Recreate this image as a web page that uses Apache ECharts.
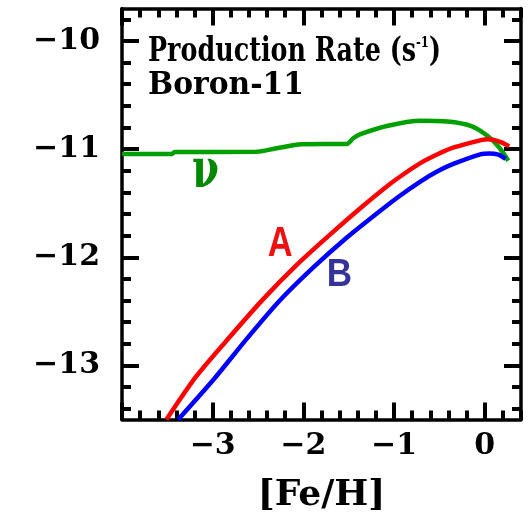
<!DOCTYPE html>
<html>
<head>
<meta charset="utf-8">
<script src="https://cdn.jsdelivr.net/npm/echarts@6/dist/echarts.min.js"></script>
<style>
  html, body { margin: 0; padding: 0; background: #fff; }
  #chart { width: 528px; height: 519px; }
</style>
</head>
<body>
<div id="chart"></div>
<script>
// Curve A: production rate (log10, s^-1) against metallicity [Fe/H]
const feA   = [-3.51, -3.18, -2.81, -2.44, -2.07, -1.70, -1.34, -1.08, -0.90, -0.71, -0.52, -0.34, -0.04, 0.03, 0.10, 0.19, 0.27];
const rateA = [-13.50, -13.10, -12.735, -12.385, -12.068, -11.786, -11.524, -11.345, -11.235, -11.13, -11.048, -10.985, -10.917, -10.908, -10.915, -10.94, -10.975];

// Curve B
const feB   = [-3.38, -2.99, -2.62, -2.26, -1.89, -1.52, -1.19, -0.95, -0.71, -0.52, -0.34, -0.04, 0.05, 0.15, 0.23];
const rateB = [-13.50, -13.13, -12.75, -12.40, -12.094, -11.817, -11.595, -11.44, -11.30, -11.205, -11.135, -11.046, -11.040, -11.052, -11.09];

// Neutrino-process curve
const feNu   = [-4.00, -3.45, -3.42, -2.52, -2.31, -2.02, -1.52, -1.45, -1.37, -1.08, -0.71, -0.41, -0.155, 0.03, 0.16, 0.26];
const rateNu = [-11.046, -11.046, -11.027, -11.025, -10.995, -10.955, -10.952, -10.90, -10.862, -10.786, -10.738, -10.745, -10.785, -10.877, -10.985, -11.108];

// Axis ranges and tick values
const xRange = [-4, 0.4];
const yRange = [-13.5, -9.7];
const xMajorTicks = [-4, -3, -2, -1, 0];
const xTickLabels = [-3, -2, -1, 0];
const yMajorTicks = [-13, -12, -11, -10];
const yTickLabels = [-13, -12, -11, -10];

// Curve labels placed in data coordinates
const curveNotes = [
  { key: 'A',  text: 'A',      fe: -2.256, rate: -11.88 },
  { key: 'B',  text: 'B',      fe: -1.603, rate: -12.162 },
  { key: 'nu', text: '\u03bd', fe: -3.08,  rate: -11.224 }
];

function minorTicks(lo, hi, step) {
  const out = [];
  for (let k = Math.ceil(lo / step); k * step <= hi + 1e-9; k++) {
    const v = Math.round(k * step * 10) / 10;
    if (Math.abs(v - Math.round(v)) > 1e-6) out.push(v);
  }
  return out;
}
const xMinorTicks = minorTicks(xRange[0], xRange[1], 0.2);
const yMinorTicks = minorTicks(yRange[0], yRange[1], 0.2);

const pair = (xs, ys) => xs.map((x, i) => [x, ys[i]]);
const fmt = v => (v < 0 ? '\u2212' : '') + Math.abs(v);

const labelFont = { fontFamily: 'DejaVu Serif', fontWeight: 'bold', fontSize: 30, color: '#000' };
const frame = { show: true, onZero: false, lineStyle: { color: '#000', width: 3.5 } };

function xAxisDef(pos, major, withLine, withLabels) {
  return {
    type: 'value', position: pos, min: xRange[0], max: xRange[1],
    axisLine: withLine ? frame : { show: false, onZero: false },
    axisTick: {
      show: true, inside: true, length: major ? 17 : 9,
      customValues: major ? xMajorTicks : xMinorTicks,
      lineStyle: { color: '#000', width: 4 }
    },
    axisLabel: withLabels
      ? Object.assign({ show: true, margin: 12, customValues: xTickLabels, formatter: fmt }, labelFont)
      : { show: false },
    splitLine: { show: false }
  };
}
function yAxisDef(pos, major, withLine, withLabels) {
  return {
    type: 'value', position: pos, min: yRange[0], max: yRange[1],
    axisLine: withLine ? frame : { show: false, onZero: false },
    axisTick: {
      show: true, inside: true, length: major ? 17 : 9,
      customValues: major ? yMajorTicks : yMinorTicks,
      lineStyle: { color: '#000', width: 4 }
    },
    axisLabel: withLabels
      ? Object.assign({ show: true, margin: 22, customValues: yTickLabels, formatter: fmt }, labelFont)
      : { show: false },
    splitLine: { show: false }
  };
}

const chart = echarts.init(document.getElementById('chart'), null, { renderer: 'canvas' });

const bottomX = xAxisDef('bottom', true, true, true);
bottomX.name = '[Fe/H]';
bottomX.nameLocation = 'middle';
bottomX.nameGap = 58;
bottomX.nameTextStyle = { fontFamily: 'DejaVu Serif', fontWeight: 'bold', fontSize: 36, color: '#000' };

const lineSeries = (data, color) => ({
  type: 'line', data, showSymbol: false, smooth: 0.25,
  xAxisIndex: 0, yAxisIndex: 0, clip: true,
  lineStyle: { color, width: 4.5 }, animation: false
});

chart.setOption({
  animation: false,
  backgroundColor: '#fff',
  grid: { left: 122, right: 7, top: 8.5, bottom: 99.5, containLabel: false },
  xAxis: [
    bottomX,
    xAxisDef('bottom', false, false, false),
    xAxisDef('top', true, true, false),
    xAxisDef('top', false, false, false)
  ],
  yAxis: [
    yAxisDef('left', true, true, true),
    yAxisDef('left', false, false, false),
    yAxisDef('right', true, true, false),
    yAxisDef('right', false, false, false)
  ],
  series: [
    lineSeries(pair(feNu, rateNu), '#00a000'),
    lineSeries(pair(feA, rateA), '#ff0000'),
    lineSeries(pair(feB, rateB), '#0000ff')
  ]
});

// Text styles for the curve labels
const noteStyle = {
  A:  { font: 'bold 43px "Liberation Sans"', fill: '#ee1111', sx: 0.8, sy: 1 },
  B:  { font: 'bold 39px "Liberation Sans"', fill: '#333399', sx: 0.9, sy: 1 },
  nu: { font: 'bold 54px "DejaVu Serif"', fill: '#008800', sx: 0.72, sy: 1 }
};

const graphics = curveNotes.map(n => {
  const p = chart.convertToPixel({ xAxisIndex: 0, yAxisIndex: 0 }, [n.fe, n.rate]);
  const s = noteStyle[n.key];
  return {
    type: 'text', x: p[0], y: p[1], scaleX: s.sx, scaleY: s.sy, z: 10,
    style: { text: n.text, font: s.font, fill: s.fill, align: 'center', verticalAlign: 'middle' }
  };
});

// Panel heading
graphics.push({
  type: 'text', x: 148, y: 36, scaleX: 0.77, z: 10,
  style: {
    text: '{m|Production Rate (s}{s|-1}{m|)}',
    verticalAlign: 'top',
    rich: {
      m: { font: 'bold 33px "DejaVu Serif"', fill: '#000', verticalAlign: 'bottom' },
      s: { font: 'bold 15px "DejaVu Serif"', fill: '#000', verticalAlign: 'top' }
    }
  }
});
graphics.push({
  type: 'text', x: 148, y: 70, scaleX: 0.93, z: 10,
  style: { text: 'Boron-11', font: 'bold 32px "DejaVu Serif"', fill: '#000', verticalAlign: 'top' }
});

chart.setOption({ graphic: graphics });
</script>
</body>
</html>
